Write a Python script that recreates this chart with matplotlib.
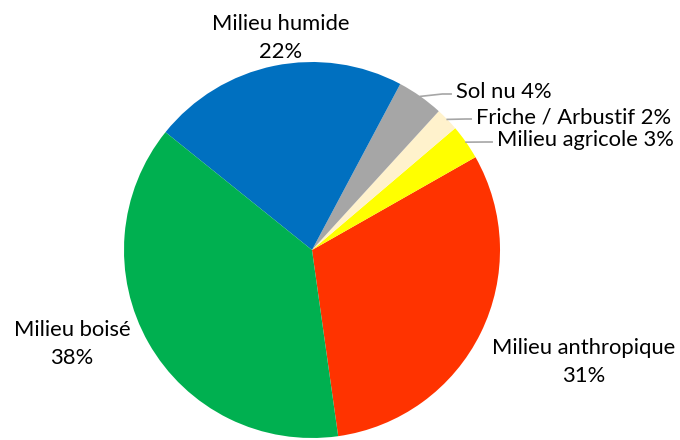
import numpy as np
import matplotlib.pyplot as plt

# Land cover shares (%), counter-clockwise from the bottom
categories = ["Milieu anthropique", "Milieu agricole", "Friche / Arbustif",
              "Sol nu", "Milieu humide", "Milieu boisé"]
shares = [31, 3, 2, 4, 22, 38]
colors = ["#FF3300", "#FFFF00", "#FFF2CC", "#A6A6A6", "#0070C0", "#00B050"]

W, H = 680, 440
plt.rcParams['font.family'] = ['Lato', 'DejaVu Sans']

fig = plt.figure(figsize=(W / 100, H / 100), dpi=100)
# pie centre at (312, 250) px from top, radius 188 px
cx, cy, r = 312, 250, 188
ax = fig.add_axes([(cx - r) / W, (H - cy - r) / H, 2 * r / W, 2 * r / H])
wedges, _ = ax.pie(shares, colors=colors, startangle=-82, counterclock=True,
                   radius=1.0, wedgeprops=dict(linewidth=0))
ax.set_xlim(-1, 1)
ax.set_ylim(-1, 1)
ax.axis("off")

fs = 15.8


def px(x, y):
    return x / W, 1 - y / H


# two-line labels for the big slices
big = {"Milieu humide": (281, 38),
       "Milieu boisé": (72, 344),
       "Milieu anthropique": (584, 362)}
for name, (x, y) in big.items():
    i = categories.index(name)
    fig.text(*px(x, y), f"{name}\n{shares[i]}%", ha="center", va="center",
             fontsize=fs, linespacing=1.5, color="black")

# small slices with leader lines
small = {"Sol nu": (456, 92), "Friche / Arbustif": (476, 117),
         "Milieu agricole": (497, 140)}
for name, (x, y) in small.items():
    i = categories.index(name)
    w = wedges[i]
    mid = np.deg2rad((w.theta1 + w.theta2) / 2)
    ex, ey = np.cos(mid), np.sin(mid)
    tx, ty = ax.transAxes.inverted().transform(
        fig.transFigure.transform(px(x - 3, y + 2)))
    tx, ty = tx * 2 - 1, ty * 2 - 1
    ax.plot([ex * 1.0, (ex + tx) / 2 + 0.03, tx - 0.01],
            [ey * 1.0, ty, ty], color="#A6A6A6", lw=1.2, clip_on=False)
    fig.text(*px(x, y), f"{name} {shares[i]}%", ha="left", va="center",
             fontsize=fs, color="black")

fig.savefig("out.png", dpi=100)
